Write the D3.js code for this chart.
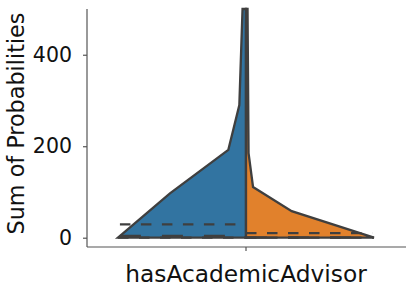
<!DOCTYPE html>
<meta charset="utf-8">
<style>
  body { margin: 0; background: #fff; }
  text { font-family: "DejaVu Sans", sans-serif; fill: #111; }
</style>
<body>
<script src="https://cdn.jsdelivr.net/npm/d3@7"></script>
<script>

    // data
    var category = "hasAcademicAdvisor";
    var yTicks = [0, 200, 400];

    // left half (blue): value along y, relative density (width)
    var blueValues  = [0, 97, 192, 290, 500];
    var blueDensity = [1.0, 0.594, 0.138, 0.052, 0.027];

    // right half (orange)
    var orangeValues  = [0, 58, 111, 185, 500];
    var orangeDensity = [1.0, 0.357, 0.055, 0.02, 0.012];

    // quartile lines: [q25, median, q75] and the width they are drawn at
    var blueQuartiles    = [0, 4, 29];
    var blueQuartWidth   = [1.0, 0.985, 0.985];
    var orangeQuartiles  = [0, 0.5, 10];
    var orangeQuartWidth = [1.0, 0.985, 0.985];

    var W = 415, H = 293;
    var margin = {top: 9, right: 10, bottom: 46, left: 87};

    var svg = d3.select("body")
                .append("svg")
                .attr("width", W)
                .attr("height", H);

    var y = d3.scaleLinear()
              .domain([-20.3, 500])
              .range([H - margin.bottom, margin.top]);

    var x = d3.scaleBand()
              .domain([category])
              .range([margin.left, W - margin.right]);

    var cx = x(category) + x.bandwidth() / 2;

    var dens = d3.scaleLinear().domain([0, 1]).range([0, 128]);

    var lineColor = "#3f3f3f";

    function half(values, density, side) {
        var pts = values.map(function (v, i) {
            return [cx + side * dens(density[i]), y(v)];
        });
        pts.push([cx, y(values[values.length - 1])]);
        pts.push([cx, y(values[0])]);
        return pts;
    }

    var halves = [
        {pts: half(blueValues, blueDensity, -1), fill: "#3274a1"},
        {pts: half(orangeValues, orangeDensity, 1), fill: "#e1812c"}
    ];

    svg.selectAll(".violin")
       .data(halves)
       .enter()
       .append("path")
       .attr("class", "violin")
       .attr("d", function (d) { return d3.line()(d.pts) + "Z"; })
       .attr("fill", function (d) { return d.fill; })
       .attr("stroke", lineColor)
       .attr("stroke-width", 2.3)
       .attr("stroke-linejoin", "miter");

    // quartile dashes (drawn left to right, like matplotlib does)
    var quart = [];
    blueQuartiles.forEach(function (q, i) {
        quart.push({v: q, x1: cx - dens(blueQuartWidth[i]), x2: cx, median: i === 1});
    });
    orangeQuartiles.forEach(function (q, i) {
        quart.push({v: q, x1: cx, x2: cx + dens(orangeQuartWidth[i]), median: i === 1});
    });

    svg.selectAll(".quart")
       .data(quart)
       .enter()
       .append("line")
       .attr("class", "quart")
       .attr("x1", function (d) { return d.x1; })
       .attr("x2", function (d) { return d.x2; })
       .attr("y1", function (d) { return y(d.v); })
       .attr("y2", function (d) { return y(d.v); })
       .attr("stroke", lineColor)
       .attr("stroke-width", 2.3)
       .attr("stroke-dasharray", function (d) { return d.median ? "21,21" : "10.5,10.5"; });

    // axes
    var yAxis = svg.append("g")
                   .attr("transform", "translate(" + margin.left + ",0)")
                   .call(d3.axisLeft(y).tickValues(yTicks).tickSize(4).tickPadding(11));

    var xAxis = svg.append("g")
                   .attr("transform", "translate(0," + (H - margin.bottom) + ")")
                   .call(d3.axisBottom(x).tickSize(4).tickPadding(14));

    [yAxis, xAxis].forEach(function (g) {
        g.selectAll("path").attr("stroke", "#555").attr("stroke-width", 1.2);
        g.selectAll("line").attr("stroke", "#555").attr("stroke-width", 1.2);
        g.selectAll("text")
         .attr("font-family", "DejaVu Sans")
         .attr("fill", "#111");
    });
    yAxis.selectAll("text").attr("font-size", 20.5);
    xAxis.selectAll("text").attr("font-size", 23.3);

    // domain lines without outer tick caps
    yAxis.select(".domain").attr("d", "M0," + y(500) + "V" + y(-20.3));
    xAxis.select(".domain").attr("d", "M" + margin.left + ",0H" + (W - margin.right + 1));

    svg.append("text")
       .attr("transform", "translate(24," + ((margin.top + H - margin.bottom) / 2 - 4.5) + ") rotate(-90)")
       .attr("text-anchor", "middle")
       .attr("font-size", 22.3)
       .text("Sum of Probabilities");

</script>
</body>
